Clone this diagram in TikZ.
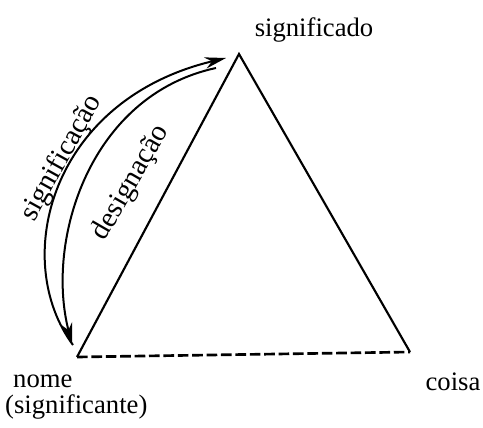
\documentclass[tikz,border=0pt]{standalone}
\usepackage{fontspec}
\setmainfont{Liberation Serif}
\usepackage{tikz}
\usetikzlibrary{
  arrows.meta,
  positioning,
  calc
}
\tikzset{
  side/.style={
    draw=black,
    line width=0.8pt,
  },
  dashside/.style={
    side,
    line width=1pt,
    dash pattern=on 4pt off 1.4pt,
  },
  arcarr/.style={
    -{Stealth[length=2.8mm, width=1.5mm]},
    line width=0.75pt,
    draw=black,
  },
  lbl/.style={
    font=\normalsize,
    inner sep=1pt,
  },
  arclbl/.style={
    font=\fontsize{10.8}{12}\selectfont,
    inner sep=1pt,
  },
}

\begin{document}
\begin{tikzpicture}[
  x=0.375pt, y=-0.375pt,
  every node/.style={align=center},
]
  \useasboundingbox (0,0) rectangle (483,428);

  % Triangle corners
  \coordinate (sdo)  at (239,54);
  \coordinate (nome) at (77,357);
  \coordinate (coisa) at (410,352);

  \draw[side] (nome) -- (sdo) -- (coisa);
  \draw[dashside] (nome) -- (coisa);

  % Corner labels
  \node[lbl] (sdolbl)   at (314,30)  {significado};
  \node[lbl, anchor=west] (nomelbl) at (10,381) {nome};
  \node[lbl, anchor=west] (sntelbl) at (2,407)  {(significante)};
  \node[lbl] (coisalbl) at (453,382) {coisa};

  % Arc ends
  \coordinate (sgA) at (73,345);
  \coordinate (sgB) at (226,58);
  \coordinate (dsA) at (216,68);
  \coordinate (dsB) at (72,344);

  % significacao: nome -> significado
  \draw[arcarr] (sgA) .. controls (10,260) and (50,100) .. (sgB);
  % designacao: significado -> nome
  \draw[arcarr] (dsA) .. controls (90,95) and (45,240) .. (dsB);

  \node[arclbl, rotate=61] (sglbl) at (62,158) {significação};
  \node[arclbl, rotate=60] (dslbl) at (131,183) {designação};
\end{tikzpicture}
\end{document}
